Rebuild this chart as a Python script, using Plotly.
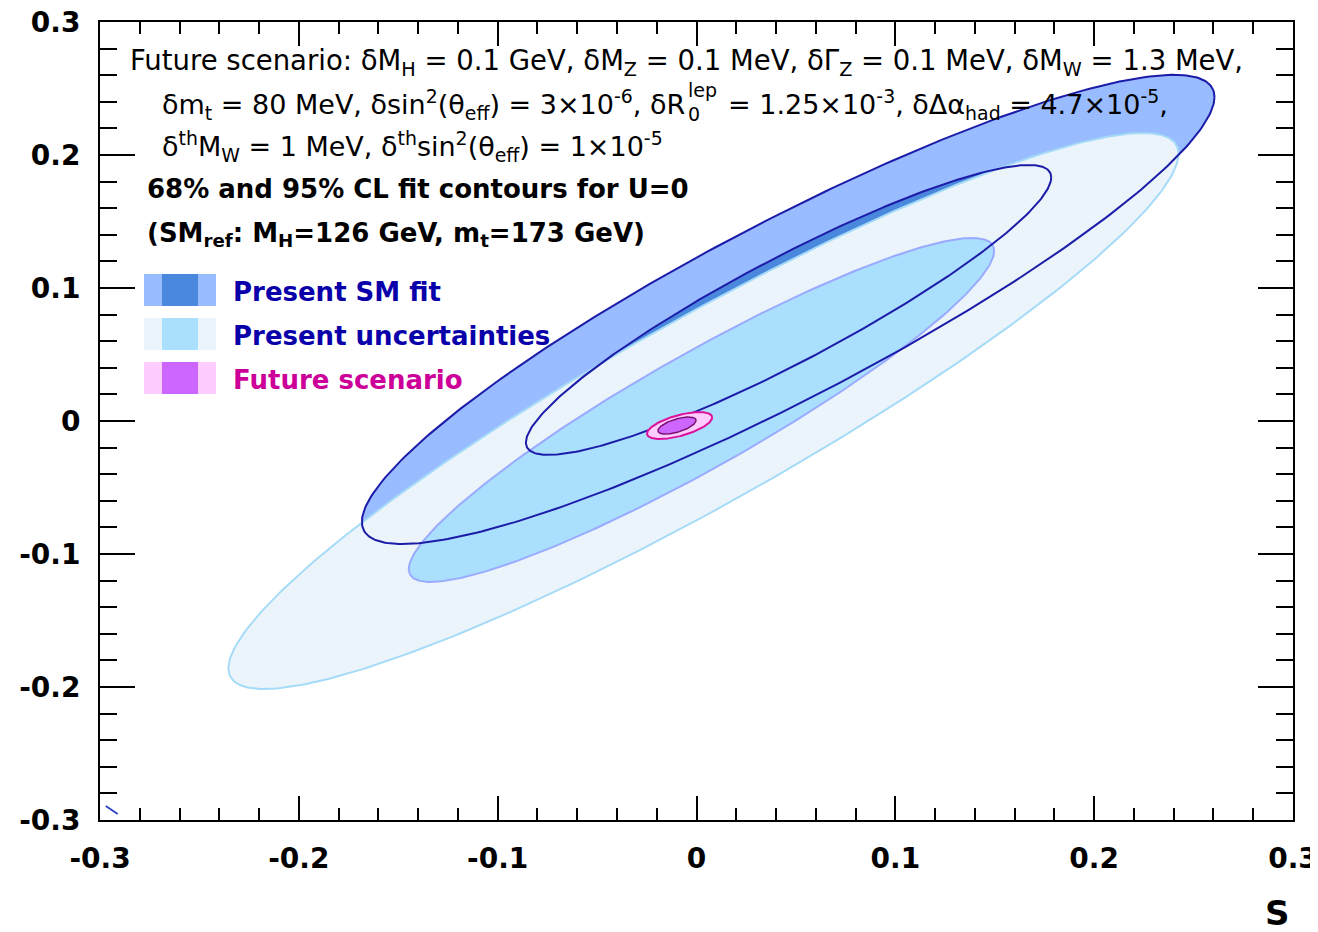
import numpy as np
import plotly.graph_objects as go

# ---------------- data ----------------
tick_vals = [-0.3, -0.2, -0.1, 0.0, 0.1, 0.2, 0.3]
tick_text = ["-0.3", "-0.2", "-0.1", "0", "0.1", "0.2", "0.3"]

# contour ellipses (S,T): centre, half-extent in S, half-extent in T, correlation
contour_names = ["SM fit 95%", "SM fit 68%", "Present unc. 95%", "Present unc. 68%",
                 "Future 95%", "Future 68%"]
s_center = [0.0461, 0.0463, 0.0035, 0.0025, -0.0085, -0.0098]
t_center = [0.0839, 0.0835, 0.0075, 0.0083, -0.0034, -0.0034]
s_half = [0.2144, 0.1321, 0.2389, 0.1472, 0.0164, 0.0096]
t_half = [0.1764, 0.1090, 0.2090, 0.1293, 0.0101, 0.0064]
rho = [0.905, 0.914, 0.925, 0.925, 0.60, 0.60]

# small stray contour fragment in the lower-left corner
stray_s = [-0.2971, -0.2911]
stray_t = [-0.2895, -0.2955]

legend_labels = ["Present SM fit", "Present uncertainties", "Future scenario"]
legend_outer = ["#99bbff", "#eaf4fa", "#ffccff"]
legend_inner = ["#4a88dd", "#aadffd", "#cc66ff"]
legend_text_col = ["#0a00aa", "#0a00aa", "#cc0099"]

# ---------------- helpers ----------------
W, H = 1318, 932          # browser window
OFF = 8                   # default page body margin
L, R, T, B = 100, 1293, 22, 820   # plot frame in window pixels
FONT = "DejaVu Sans, Verdana, sans-serif"


def px(x):
    return (x - L) / (R - L)


def py(y):
    return (B - y) / (B - T)


def contour(i, n=361):
    phi = np.linspace(0, 2 * np.pi, n)
    s = s_center[i] + s_half[i] * np.cos(phi)
    t = t_center[i] + t_half[i] * (rho[i] * np.cos(phi) + np.sqrt(1 - rho[i] ** 2) * np.sin(phi))
    return s, t


fig = go.Figure()


def add(i, fill=None, line=None, width=2):
    s, t = contour(i)
    fig.add_trace(go.Scatter(
        x=s, y=t, mode="lines", name=contour_names[i],
        fill="toself" if fill else None,
        fillcolor=fill,
        line=dict(color=line if line else "rgba(0,0,0,0)", width=width if line else 0),
        hoverinfo="skip", showlegend=False))


add(0, fill="#99bbff")
add(1, fill="#4a88dd")
add(2, fill="#eaf4fa", line="#a6dbf8", width=2)
add(3, fill="#aadffd", line="#9aabff", width=2)
add(0, line="#1c1ca8", width=2)
add(1, line="#1c1ca8", width=2)
add(4, fill="#ffccff", line="#dd1199", width=2)
add(5, fill="#cc66ff", line="#7a1170", width=1.5)

fig.add_trace(go.Scatter(x=stray_s, y=stray_t, mode="lines",
                         line=dict(color="#3344cc", width=2), showlegend=False,
                         hoverinfo="skip"))

tickfont = dict(family=FONT, size=28, color="black", weight="bold")

common = dict(range=[-0.3, 0.3], tickmode="array", tickvals=tick_vals, ticktext=tick_text,
              ticks="inside", tickwidth=2, tickcolor="black", showline=True, linewidth=2,
              linecolor="black", mirror="allticks", showgrid=False, zeroline=False,
              tickfont=tickfont, automargin=False, ticklabeloverflow="allow")

fig.update_xaxes(**common, ticklen=24, ticklabelstandoff=12,
                 minor=dict(tickmode="linear", tick0=-0.3, dtick=0.02, ticks="inside",
                            ticklen=12, tickwidth=2, tickcolor="black"))
fig.update_yaxes(**common, ticklen=35, ticklabelstandoff=12,
                 minor=dict(tickmode="linear", tick0=-0.3, dtick=0.02, ticks="inside",
                            ticklen=17, tickwidth=2, tickcolor="black"))

shapes = []
ann = []
txt_font = dict(family=FONT, size=27, color="black")
txt_font1 = dict(family=FONT, size=27.5, color="black")
small_font = dict(family=FONT, size=19, color="black")
bold_font = dict(family=FONT, size=26, color="black", weight="bold")

lines = [
    (128, 62, "Future scenario: δM<sub>H</sub> = 0.1 GeV, δM<sub>Z</sub> = 0.1 MeV, "
              "δΓ<sub>Z</sub> = 0.1 MeV, δM<sub>W</sub> = 1.3 MeV,", txt_font1),
    (160, 104, "δm<sub>t</sub> = 80 MeV, δsin<sup>2</sup>(θ<sub>eff</sub>) = 3×10<sup>-6</sup>, δR",
     txt_font),
    (726, 104, "= 1.25×10<sup>-3</sup>, δΔα<sub>had</sub> = 4.7×10<sup>-5</sup>,", txt_font),
    (160, 146, "δ<sup>th</sup>M<sub>W</sub> = 1 MeV, δ<sup>th</sup>sin<sup>2</sup>(θ<sub>eff</sub>) = 1×10<sup>-5</sup>",
     txt_font),
    (145, 189, "68% and 95% CL fit contours for U=0", bold_font),
    (145, 234, "(SM<sub>ref</sub>: M<sub>H</sub>=126 GeV, m<sub>t</sub>=173 GeV)", bold_font),
]
for x0, y0, text, f in lines:
    ann.append(dict(x=px(x0), y=py(y0), xref="paper", yref="paper", text=text,
                    showarrow=False, xanchor="left", yanchor="middle", font=f, align="left"))

# stacked sub/superscript of R_0^lep
ann.append(dict(x=px(686), y=py(114), xref="paper", yref="paper", text="0", showarrow=False,
                xanchor="left", yanchor="middle", font=small_font))
ann.append(dict(x=px(686), y=py(90), xref="paper", yref="paper", text="lep", showarrow=False,
                xanchor="left", yanchor="middle", font=small_font))

row_y = [290, 334, 378]
for k in range(3):
    y0, y1 = row_y[k] - 16, row_y[k] + 16
    shapes.append(dict(type="rect", xref="paper", yref="paper", x0=px(144), x1=px(216),
                       y0=py(y1), y1=py(y0), fillcolor=legend_outer[k], line=dict(width=0),
                       layer="above"))
    shapes.append(dict(type="rect", xref="paper", yref="paper", x0=px(162), x1=px(198),
                       y0=py(y1), y1=py(y0), fillcolor=legend_inner[k], line=dict(width=0),
                       layer="above"))
    ann.append(dict(x=px(231), y=py(row_y[k] + 2), xref="paper", yref="paper",
                    text=legend_labels[k], showarrow=False, xanchor="left", yanchor="middle",
                    font=dict(family=FONT, size=26, color=legend_text_col[k], weight="bold")))

ann.append(dict(x=px(1292), y=py(913), xref="paper", yref="paper", text="S", showarrow=False,
                xanchor="right", yanchor="middle",
                font=dict(family=FONT, size=34, color="black", weight="bold")))

fig.update_layout(width=W - OFF, height=H - OFF,
                  margin=dict(l=L - OFF, r=W - R, t=T - OFF, b=H - B, autoexpand=False),
                  plot_bgcolor="white", paper_bgcolor="white", showlegend=False,
                  shapes=shapes, annotations=ann)

fig.write_html("out.html")
